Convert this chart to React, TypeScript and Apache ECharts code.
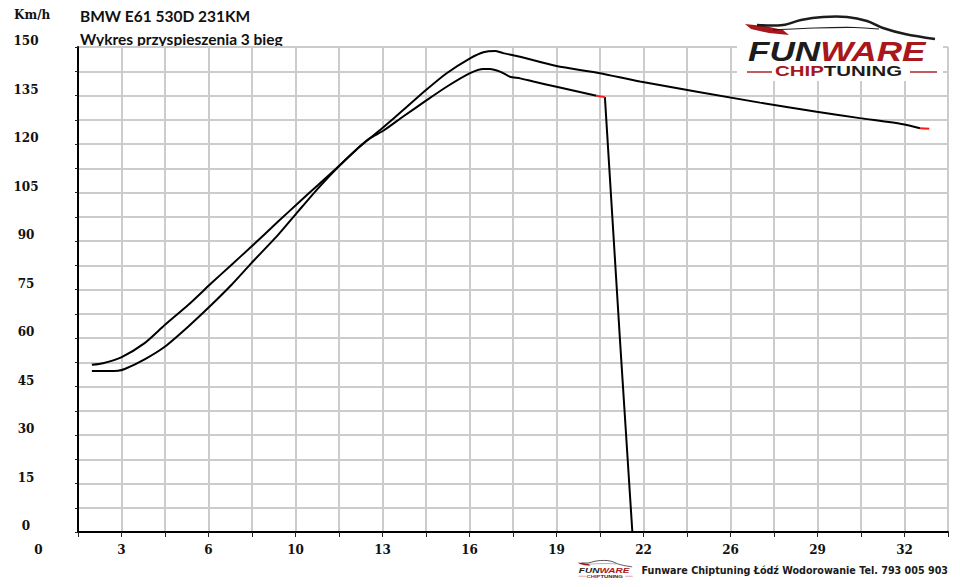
import React, { useEffect, useRef } from "react";
import * as echarts from "echarts";

// ---- data ----
const xTuned = [2.11, 3.07, 3.32, 4.05, 4.79, 5.65, 6.5, 7.24, 7.97, 8.96, 9.69, 10.43, 11.24, 11.97, 12.34, 12.83, 13.56, 14.4, 15.16, 16.02, 16.51, 16.94, 17.24, 17.86, 19.2, 20.8, 22.27, 26.68, 28.77, 30.36, 31.95, 32.57];
const vTuned = [49.8, 49.9, 50.4, 53.4, 57.3, 63.5, 70.2, 76.4, 83.1, 91.9, 99.1, 106.3, 113.5, 119.3, 121.8, 125.2, 130.5, 136.7, 141.9, 146.5, 148.4, 148.8, 148.1, 147.0, 144.1, 141.9, 139.3, 132.8, 130.0, 128.0, 126.1, 124.9];
const xTunedEnd = [32.57, 32.91];
const vTunedEnd = [124.9, 124.7];

const xStock = [2.11, 2.52, 3.19, 4.05, 4.79, 5.65, 6.5, 7.24, 7.97, 8.96, 9.69, 10.43, 11.24, 11.97, 12.34, 12.83, 13.56, 14.4, 15.16, 16.02, 16.51, 16.75, 17.12, 17.49, 17.86, 18.35, 19.2, 20.67];
const vStock = [51.7, 52.2, 54.0, 58.4, 64.0, 70.2, 76.9, 82.6, 88.2, 96.0, 101.7, 107.3, 113.5, 119.2, 121.8, 124.1, 128.5, 133.4, 137.7, 141.9, 143.2, 143.2, 142.4, 140.8, 140.3, 139.3, 137.7, 134.9];
const xStockEnd = [20.67, 20.98];
const vStockEnd = [134.9, 134.5];
const xStockDrop = [20.98, 21.53, 21.99];
const vStockDrop = [134.5, 60.0, 0];

const xMin = 1.6;
const xMax = 33.6;
const xStep = 1.6;
const yMin = 0;
const yMax = 150;
const yStep = 7.5;

const title1 = "BMW E61 530D 231KM";
const title2 = "Wykres przyspieszenia 3 bieg";
const yUnit = "Km/h";
const footer = "Funware Chiptuning Łódź Wodorowanie Tel. 793 005 903";

const zip = (xs: number[], ys: number[]) => xs.map((x, i) => [x, ys[i]]);

const RED = "#a8171b";
const DARK = "#1c1c1c";
const GRID = "#cccccc";
const LZ = 100;

function logo(x: number, y: number, s: number) {
  return {
    type: "group",
    x,
    y,
    scaleX: s,
    scaleY: s,
    silent: true,
    z: LZ,
    children: [
      {
        type: "rect",
        z: LZ,
        shape: { x: -8, y: -6, width: 206, height: 72 },
        style: { fill: "#ffffff" },
      },
      {
        type: "polygon",
        z: LZ + 1,
        shape: { points: [[0, 9], [20, 11], [38, 15], [44, 20], [24, 18], [6, 14]] },
        style: { fill: RED },
      },
      {
        type: "polyline",
        z: LZ + 1,
        shape: {
          points: [[12, 10], [38, 10], [56, 5], [78, 2], [102, 2], [122, 6], [138, 13], [160, 19], [190, 24]],
          smooth: 0.35,
        },
        style: { stroke: DARK, lineWidth: 2.6, fill: null },
      },
      {
        type: "polyline",
        z: LZ + 1,
        shape: { points: [[28, 15], [70, 13], [110, 12.5], [134, 14]], smooth: 0.3 },
        style: { stroke: DARK, lineWidth: 1.2, fill: null },
      },
      {
        type: "text",
        z: LZ + 1,
        x: 3,
        y: 37,
        scaleX: 1.3,
        style: {
          text: "{a|FUN}{b|WARE}",
          textAlign: "left",
          textVerticalAlign: "middle",
          rich: {
            a: { fill: DARK, fontSize: 27, fontWeight: 900, fontStyle: "italic", fontFamily: "Liberation Sans" },
            b: { fill: RED, fontSize: 27, fontWeight: 900, fontStyle: "italic", fontFamily: "Liberation Sans" },
          },
        },
      },
      {
        type: "text",
        z: LZ + 1,
        x: 30,
        y: 56,
        scaleX: 1.46,
        style: {
          text: "{c|CHIP}{d|TUNING}",
          textAlign: "left",
          textVerticalAlign: "middle",
          rich: {
            c: { fill: RED, fontSize: 14, fontWeight: 900, fontFamily: "Liberation Sans" },
            d: { fill: DARK, fontSize: 14, fontWeight: 900, fontFamily: "Liberation Sans" },
          },
        },
      },
      { type: "line", z: LZ + 1, shape: { x1: 2, y1: 57, x2: 27, y2: 57 }, style: { stroke: RED, lineWidth: 1.4 } },
      { type: "line", z: LZ + 1, shape: { x1: 165, y1: 57, x2: 192, y2: 57 }, style: { stroke: RED, lineWidth: 1.4 } },
    ],
  };
}

const lineSeries = (data: number[][], color: string, z: number, smooth: number) => ({
  type: "line",
  data,
  showSymbol: false,
  symbol: "none",
  smooth,
  lineStyle: { color, width: 2 },
  z,
});

export default function App() {
  const ref = useRef<HTMLDivElement>(null);
  useEffect(() => {
    if (!ref.current) return;
    const chart = echarts.init(ref.current, null, { renderer: "svg" });
    const labelFont = { fontFamily: "DejaVu Serif", fontWeight: "bold" as const, fontSize: 12, color: "#111" };
    chart.setOption({
      animation: false,
      grid: { left: 78, top: 47, right: 12, bottom: 55, containLabel: false },
      xAxis: {
        type: "value",
        min: xMin,
        max: xMax,
        interval: xStep,
        axisLine: { show: true, onZero: false, lineStyle: { color: "#000", width: 2 } },
        axisTick: { show: true, length: 5, lineStyle: { color: "#222", width: 1 } },
        axisLabel: {
          ...labelFont,
          margin: 12,
          showMinLabel: true,
          showMaxLabel: true,
          formatter: (v: number) => {
            const k = Math.round(v / xStep);
            return k % 2 === 0 ? String(Math.round(v)) : "";
          },
        },
        splitLine: { show: true, lineStyle: { color: GRID, width: 2 } },
      },
      yAxis: {
        type: "value",
        min: yMin,
        max: yMax,
        interval: yStep,
        axisLine: { show: true, lineStyle: { color: "#000", width: 2 } },
        axisTick: { show: true, length: 3, lineStyle: { color: "#222", width: 1 } },
        axisLabel: {
          ...labelFont,
          margin: 52,
          align: "center",
          verticalAlign: "bottom",
          formatter: (v: number) => (Math.round(v) % 15 === 0 ? String(Math.round(v)) : ""),
        },
        splitLine: { show: true, lineStyle: { color: GRID, width: 2 } },
      },
      series: [
        lineSeries(zip(xStock, vStock), "#000", 3, 0.22),
        lineSeries(zip(xStockDrop, vStockDrop), "#000", 3, 0),
        lineSeries(zip(xTuned, vTuned), "#000", 3, 0.22),
        lineSeries(zip(xStockEnd, vStockEnd), "#ff1a1a", 4, 0),
        lineSeries(zip(xTunedEnd, vTunedEnd), "#ff1a1a", 4, 0),
      ],
      graphic: {
        elements: [
          {
            type: "text",
            left: 14,
            top: 9,
            style: { text: yUnit, fill: "#111", font: "bold 12px 'DejaVu Serif'" },
          },
          {
            type: "text",
            x: 38.5,
            y: 550,
            style: { text: "0", fill: "#111", textAlign: "center", textVerticalAlign: "middle", font: "bold 12px 'DejaVu Serif'" },
          },
          {
            type: "text",
            x: 80,
            y: 16,
            style: { text: title1, fill: "#111", textAlign: "left", textVerticalAlign: "middle", font: "bold 15.5px Lato" },
          },
          {
            type: "text",
            x: 80,
            y: 38.5,
            style: { text: title2, fill: "#111", textAlign: "left", textVerticalAlign: "middle", font: "bold 15.5px Lato" },
          },
          {
            type: "text",
            x: 948,
            y: 570,
            style: { text: footer, fill: "#1a1a1a", textAlign: "right", textVerticalAlign: "middle", font: "bold 9.6px 'DejaVu Sans'" },
          },
          logo(745, 15, 1),
          logo(578, 560, 0.285),
        ],
      },
    });
    return () => chart.dispose();
  }, []);
  return <div ref={ref} style={{ position: "absolute", left: 0, top: 0, width: 960, height: 587 }} />;
}
